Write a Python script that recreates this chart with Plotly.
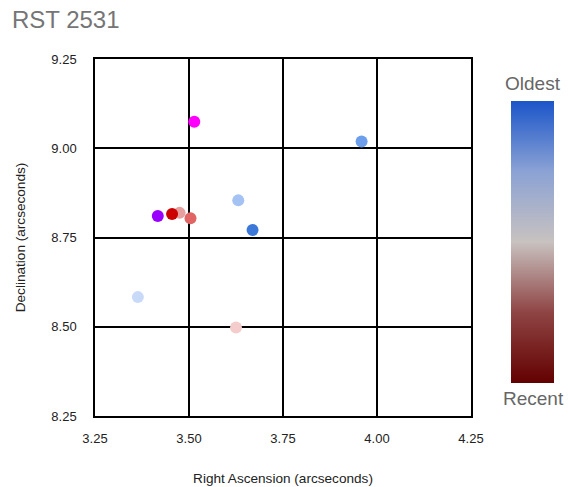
import plotly.graph_objects as go

ra = [3.514, 3.959, 3.631, 3.669, 3.417, 3.455, 3.475, 3.504, 3.364, 3.625]
dec = [9.074, 9.019, 8.854, 8.771, 8.810, 8.816, 8.819, 8.804, 8.583, 8.498]
colors = ["#ff00ff", "#6d9eeb", "#a4c2f4", "#3c78d8", "#9900ff",
          "#cc0000", "#e6a09f", "#e06666", "#c9daf8", "#f4cccc"]
x_ticks = [3.25, 3.50, 3.75, 4.00, 4.25]
y_ticks = [8.25, 8.50, 8.75, 9.00, 9.25]

fig = go.Figure()
# draw order: lighter pink behind the red
order = [0, 1, 2, 3, 4, 6, 5, 7, 8, 9]
fig.add_trace(go.Scatter(
    x=[ra[i] for i in order], y=[dec[i] for i in order], mode="markers",
    marker=dict(color=[colors[i] for i in order], size=12, line=dict(width=0)),
    showlegend=False, hoverinfo="x+y"))

# colorbar trace
fig.add_trace(go.Scatter(
    x=[None], y=[None], mode="markers", showlegend=False, hoverinfo="skip",
    marker=dict(
        color=[0, 1], cmin=0, cmax=1,
        colorscale=[[0, "#630000"], [0.25, "#8f4444"], [0.5, "#c8c2c0"],
                    [0.75, "#8ba2d4"], [1, "#1b55c9"]],
        showscale=True,
        colorbar=dict(x=1.1077, xanchor="left", thickness=43, thicknessmode="pixels",
                      len=0.79, lenmode="fraction", y=0.487, yanchor="middle",
                      outlinewidth=0, showticklabels=False, ticks="",
                      xpad=0, ypad=0))))

font_family = "Liberation Sans, Arial"
axis_common = dict(showline=True, linecolor="black", linewidth=1.5, mirror=True,
                   showgrid=True, gridcolor="black", gridwidth=1.5, zeroline=False,
                   ticks="", tickfont=dict(family=font_family, size=13, color="#222"))

fig.update_layout(
    width=568, height=487,
    margin=dict(l=95, r=97, t=59, b=71, autoexpand=False),
    paper_bgcolor="white", plot_bgcolor="white",
    title=dict(text="RST 2531", x=0.021, xanchor="left", y=0.96, yanchor="middle",
               font=dict(family=font_family, size=24, color="#757575")),
    xaxis=dict(range=[3.25, 4.25], tickvals=x_ticks, ticktext=[f"{v:.2f}" for v in x_ticks],
               ticklabelstandoff=10,
               title=dict(text="Right Ascension (arcseconds)", standoff=28,
                          font=dict(family=font_family, size=13.6, color="#222")),
               **axis_common),
    yaxis=dict(range=[8.25, 9.25], tickvals=y_ticks, ticktext=[f"{v:.2f}" for v in y_ticks],
               ticklabelstandoff=14,
               title=dict(text="Declination (arcseconds)", standoff=23,
                          font=dict(family=font_family, size=13.6, color="#222")),
               **axis_common),
    annotations=[
        dict(text="Oldest", xref="paper", yref="paper", x=(533 - 95) / 376, y=(416 - 83) / 357,
             showarrow=False, xanchor="center", yanchor="middle",
             font=dict(family=font_family, size=19, color="#666")),
        dict(text="Recent", xref="paper", yref="paper", x=(533 - 95) / 376, y=(416 - 398) / 357,
             showarrow=False, xanchor="center", yanchor="middle",
             font=dict(family=font_family, size=19, color="#666")),
    ],
)

fig.write_html("out.html", config={"displayModeBar": False},
               post_script="document.body.style.margin='0';document.body.style.overflow='hidden';")
